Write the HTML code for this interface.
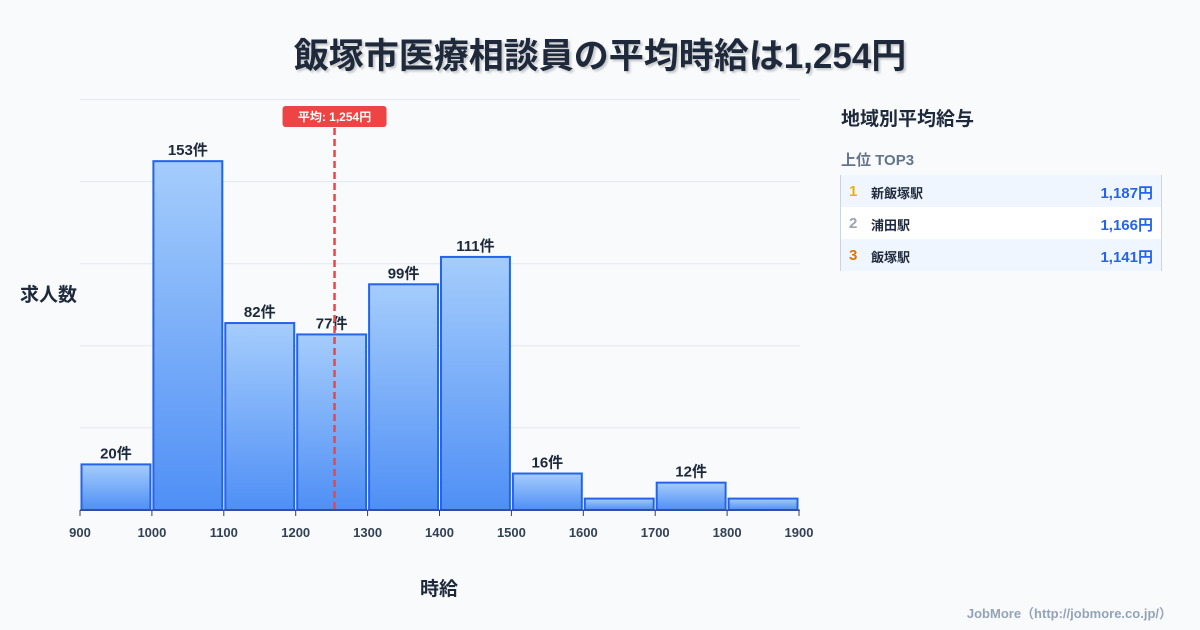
<!DOCTYPE html>
<html><head><meta charset="utf-8">
<style>
body{margin:0;width:1200px;height:630px;background:#f8fafc;font-family:"Liberation Sans","Noto Sans CJK JP",sans-serif;overflow:hidden;position:relative}
.t{position:absolute}
</style></head><body>
<div class="t" style="left:0;width:1200px;top:28px;text-align:center;font-size:35px;font-weight:bold;color:#1e293b;text-shadow:2px 2px 2px rgba(0,0,0,0.2)">飯塚市医療相談員の平均時給は1,254円</div>
<svg id="chart" width="1200" height="630" style="position:absolute;left:0;top:0">
<defs><linearGradient id="g" x1="0" y1="0" x2="0" y2="1"><stop offset="0" stop-color="#a5cdfc"/><stop offset="1" stop-color="#4f8ff5"/></linearGradient></defs>
</svg>
<div class="t" style="left:20px;top:280px;font-size:19px;font-weight:bold;color:#1e293b">求人数</div>
<div class="t" style="left:420px;top:574px;font-size:19px;font-weight:bold;color:#1e293b">時給</div>
<div class="t" style="left:841px;top:104px;font-size:19px;font-weight:bold;color:#1e293b">地域別平均給与</div>
<div class="t" style="left:841px;top:149px;font-size:15px;font-weight:bold;color:#64748b">上位 TOP3</div>
<div class="t" style="left:840px;top:175px;width:320px;height:96px;border-left:1px solid #cbd5e1;border-right:1px solid #cbd5e1;font-size:13px;font-weight:bold">
 <div style="height:32px;background:#eff6ff;position:relative"><span style="position:absolute;left:8px;top:8px;color:#eab308;font-size:15px">1</span><span style="position:absolute;left:30px;top:8px;color:#1e293b">新飯塚駅</span><span style="position:absolute;right:8px;top:7px;color:#2563eb;font-size:15px">1,187円</span></div>
 <div style="height:32px;background:#fff;position:relative"><span style="position:absolute;left:8px;top:8px;color:#9ca3af;font-size:15px">2</span><span style="position:absolute;left:30px;top:8px;color:#1e293b">浦田駅</span><span style="position:absolute;right:8px;top:7px;color:#2563eb;font-size:15px">1,166円</span></div>
 <div style="height:32px;background:#eff6ff;position:relative"><span style="position:absolute;left:8px;top:8px;color:#d97706;font-size:15px">3</span><span style="position:absolute;left:30px;top:8px;color:#1e293b">飯塚駅</span><span style="position:absolute;right:8px;top:7px;color:#2563eb;font-size:15px">1,141円</span></div>
</div>
<div class="t" style="right:28px;top:603px;font-size:13px;font-weight:bold;color:#94a3b8">JobMore（http://jobmore.co.jp/）</div>
<script>
const binStarts=[900,1000,1100,1200,1300,1400,1500,1600,1700,1800];
const counts=[20,153,82,77,99,111,16,5,12,5];
const xTicks=[900,1000,1100,1200,1300,1400,1500,1600,1700,1800,1900];
const meanValue=1254;
const meanLabel="平均: 1,254円";
const NS="http://www.w3.org/2000/svg";
const svg=document.getElementById('chart');
const x=v=>80+(v-900)*0.719;
const y=v=>510-v*2.28;
function mk(t,a){const e=document.createElementNS(NS,t);for(const k in a)e.setAttribute(k,a[k]);svg.appendChild(e);return e;}
for(let i=0;i<5;i++){const gl=mk('line',{x1:80,x2:800,y1:y(36*(i+1)),y2:y(36*(i+1)),stroke:'#e2e8f0','stroke-width':1});

}
binStarts.forEach((b,i)=>{
 const r=mk('rect',{x:x(b)+1.5,y:y(counts[i]),width:x(b+100)-x(b)-3,height:510-y(counts[i]),fill:'url(#g)',stroke:'#2563eb','stroke-width':2});
 
 
 if(counts[i]>=10){const t=mk('text',{x:(x(b)+x(b+100))/2,y:y(counts[i])-6,'text-anchor':'middle','font-size':15,'font-weight':'bold',fill:'#1e293b'});t.textContent=counts[i]+'件';
 
 }
});
const ax=mk('line',{x1:80,x2:800,y1:510,y2:510,stroke:'#334155','stroke-width':1});


xTicks.forEach(v=>{const tk=mk('line',{x1:x(v),x2:x(v),y1:510,y2:516,stroke:'#334155'});


const t=mk('text',{x:x(v),y:537,'text-anchor':'middle','font-size':13,'font-weight':'bold',fill:'#334155'});t.textContent=v;

});
const ml=mk('line',{x1:x(meanValue),x2:x(meanValue),y1:128,y2:510,stroke:'#ef4444','stroke-width':2.5,'stroke-dasharray':'7,4'});


const mb=mk('rect',{x:x(meanValue)-52,y:106,width:104,height:21,rx:3,fill:'#ef4444'});


const mt=mk('text',{x:x(meanValue),y:121,'text-anchor':'middle','font-size':12,'font-weight':'bold',fill:'#fff'});mt.textContent=meanLabel;


</script>
</body></html>
